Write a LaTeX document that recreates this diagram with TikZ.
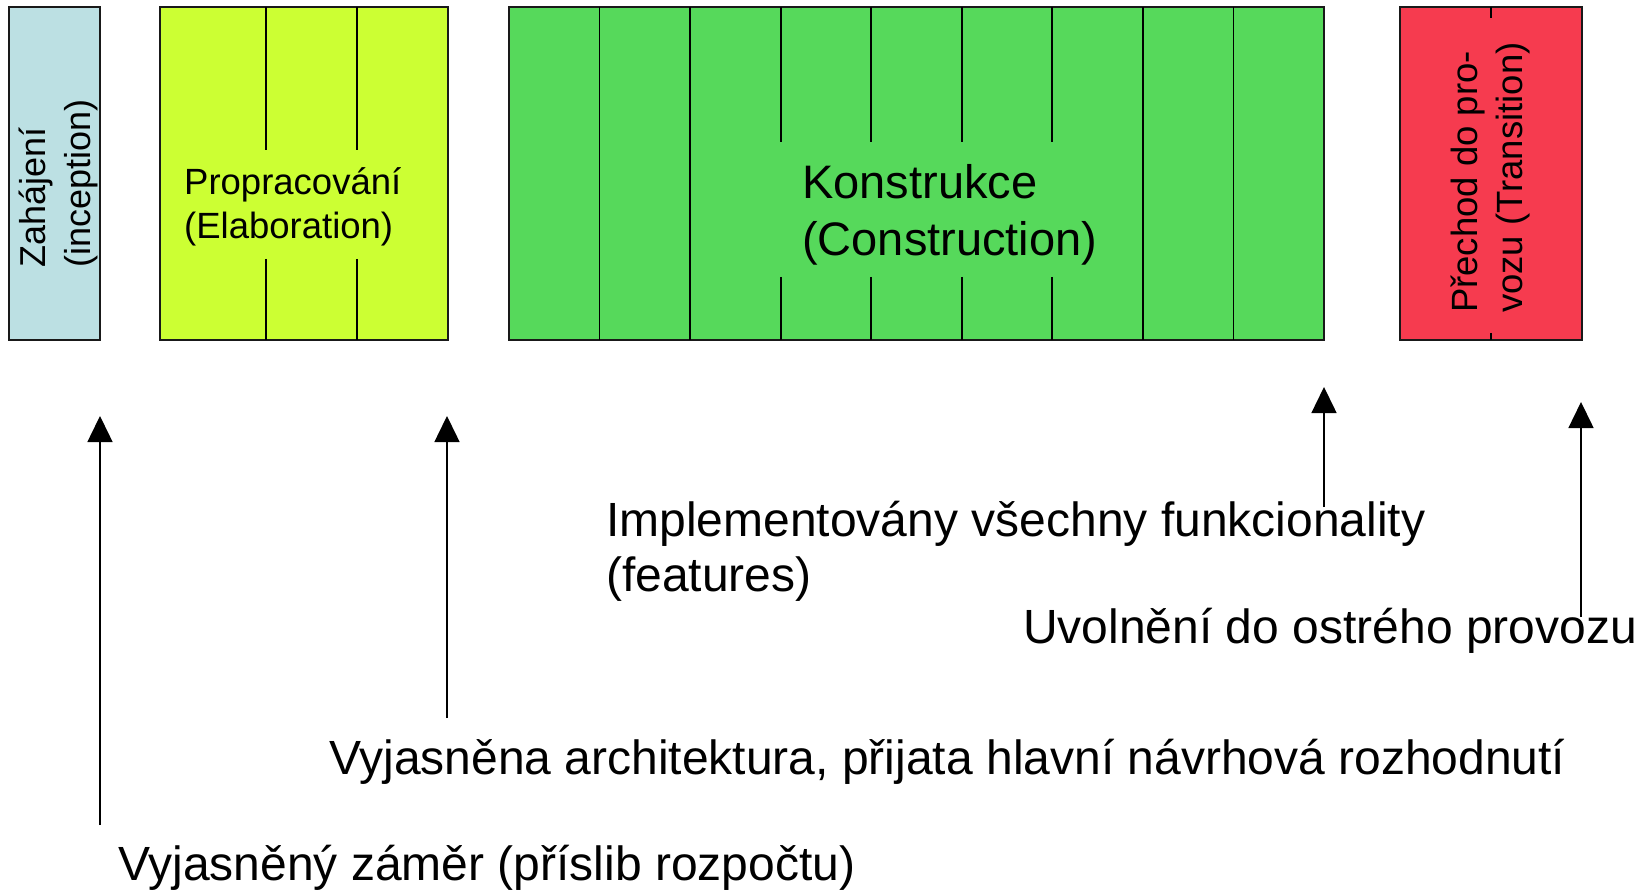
\documentclass[tikz,border=0pt]{standalone}
\usepackage{fontspec}
\setmainfont{Liberation Sans}
\usetikzlibrary{arrows.meta}
\definecolor{incep}{HTML}{BCE0E3}
\definecolor{elab}{HTML}{CCFF33}
\definecolor{constr}{HTML}{56D95B}
\definecolor{trans}{HTML}{F63B4F}

\begin{document}
\begin{tikzpicture}[x=1pt,y=-1pt,
  phase/.style={draw=black!90, line width=2pt, anchor=north west,
    inner sep=0pt, outer sep=0pt, minimum height=333pt},
  divider/.style={draw=black, line width=1.8pt},
  milestone/.style={draw=black, line width=1.5pt,
    -{Triangle[width=25pt,length=26pt]}},
  phasetext/.style={anchor=base west, inner sep=0pt, align=left},
  lbl/.style={anchor=base west, inner sep=0pt, align=left,
    font=\fontsize{48}{55}\selectfont}]

\useasboundingbox (0,0) rectangle (1646,890);

% phase boxes
\node[phase, fill=incep,  minimum width=91pt]  (inc)  at (9,7)    {};
\node[phase, fill=elab,   minimum width=288pt] (elb)  at (160,7)  {};
\node[phase, fill=constr, minimum width=815pt] (con)  at (509,7)  {};
\node[phase, fill=trans,  minimum width=182pt] (trn)  at (1400,7) {};

% iteration dividers (interrupted behind the phase titles)
\foreach \x in {266,357}
  \draw[divider] (\x,7) -- (\x,150) (\x,259) -- (\x,340);
\foreach \k in {1,2,7,8}
  \draw[divider] ({509+\k*90.56},7) -- ({509+\k*90.56},340);
\foreach \k in {3,4,5,6}
  \draw[divider] ({509+\k*90.56},7) -- ({509+\k*90.56},142)
                 ({509+\k*90.56},277) -- ({509+\k*90.56},340);
\draw[divider] (1491,7) -- (1491,18) (1491,333) -- (1491,340);

% phase titles (anchored at the baseline of their last line)
\node[phasetext, rotate=90, font=\fontsize{36}{45}\selectfont] (incT) at (90,268)
  {Zahájení\\(inception)};
\node[phasetext, font=\fontsize{36.5}{44}\selectfont] (elbT) at (184,239)
  {Propracování\\(Elaboration)};
\node[phasetext, font=\fontsize{47}{57}\selectfont] (conT) at (802,256)
  {Konstrukce\\(Construction)};
\node[phasetext, rotate=90, font=\fontsize{36.5}{45}\selectfont] (trnT) at (1522,313)
  {Přechod do pro-\\vozu (Transition)};

% milestone descriptions
\node[lbl] (m1) at (118,880) {Vyjasněný záměr (příslib rozpočtu)};
\node[lbl] (m2) at (329,774) {Vyjasněna architektura, přijata hlavní návrhová rozhodnutí};
\node[lbl] (m3) at (606,591) {Implementovány všechny funkcionality\\(features)};
\node[lbl] (m4) at (1023,643) {Uvolnění do ostrého provozu};

% milestone arrows
\coordinate (a1s) at (100,825);  \coordinate (a1e) at (100,416);
\coordinate (a2s) at (447,718);  \coordinate (a2e) at (447,416);
\coordinate (a3s) at (1324,507); \coordinate (a3e) at (1324,387);
\coordinate (a4s) at (1581,617); \coordinate (a4e) at (1581,402);
\draw[milestone] (a1s) -- (a1e);
\draw[milestone] (a2s) -- (a2e);
\draw[milestone] (a3s) -- (a3e);
\draw[milestone] (a4s) -- (a4e);
\end{tikzpicture}
\end{document}
